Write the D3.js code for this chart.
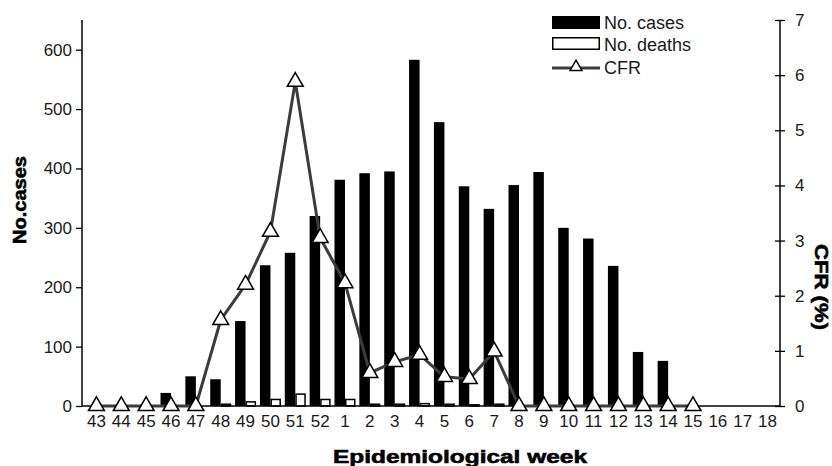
<!DOCTYPE html>
<html>
<head>
<meta charset="utf-8">
<script src="https://cdn.jsdelivr.net/npm/d3@7/dist/d3.min.js"></script>
<style>
  html, body { margin: 0; padding: 0; background: #fff; }
  svg { display: block; }
  .tick text { font-family: "Liberation Sans", Arial, sans-serif; fill: #1a1a1a; }
  .title { font-family: "Liberation Sans", Arial, sans-serif; font-weight: bold; font-size: 19px; fill: #000; stroke: #000; stroke-width: 0.6px; }
</style>
</head>
<body>
<svg id="chart" width="832" height="466"></svg>
<script>
// Epidemiological weeks (week 43 of one year through week 18 of the next)
const weeks = ["43","44","45","46","47","48","49","50","51","52",
               "1","2","3","4","5","6","7","8","9","10","11","12","13","14","15","16","17","18"];
// Weekly number of cases
const cases = [0, 0, 0, 22, 50, 45, 143, 237, 258, 320,
               381, 392, 395, 583, 478, 370, 332, 372, 394, 300, 282, 236, 91, 76, 0, 0, 0, 0];
// Weekly number of deaths
const deaths = [0, 0, 0, 0, 0, 3, 7, 11, 20, 11,
                11, 3, 3, 4, 3, 2, 3, 0, 0, 0, 0, 0, 0, 0, 0, 0, 0, 0];
// Case fatality rate (%), reported up to week 15
const cfr = [0, 0, 0, 0, 0, 1.56, 2.2, 3.16, 5.88, 3.05,
             2.23, 0.6, 0.8, 0.93, 0.53, 0.49, 0.99, 0, 0, 0, 0, 0, 0, 0, 0, null, null, null];
const casesTicks = [0, 100, 200, 300, 400, 500, 600];
const cfrTicks = [0, 1, 2, 3, 4, 5, 6, 7];

const svg = d3.select("#chart");
const plotLeft = 82, plotRight = 780, plotTop = 20, plotBottom = 406;

const x = d3.scaleBand().domain(weeks).range([84, 780]).padding(0);
const yL = d3.scaleLinear().domain([0, 650]).range([plotBottom, plotTop]);
const yR = d3.scaleLinear().domain([0, 7]).range([plotBottom, plotTop]);
const sub = d3.scaleBand().domain(["cases", "deaths"]).range([-10.5, 10.5]).padding(0);

const rows = weeks.map((w, i) => ({ w, cases: cases[i], deaths: deaths[i], cfr: cfr[i] }));
const cx = w => x(w) + x.bandwidth() / 2;

// Case bars
svg.append("g").selectAll("rect").data(rows).join("rect")
  .attr("x", d => cx(d.w) + sub("cases"))
  .attr("y", d => yL(d.cases))
  .attr("width", sub.bandwidth())
  .attr("height", d => plotBottom - yL(d.cases))
  .attr("fill", "#000");

// Death bars (outlined)
svg.append("g").selectAll("rect").data(rows.filter(d => d.deaths > 0)).join("rect")
  .attr("x", d => cx(d.w) + sub("deaths") + 0.75)
  .attr("y", d => yL(d.deaths))
  .attr("width", sub.bandwidth() - 1.5)
  .attr("height", d => plotBottom - yL(d.deaths))
  .attr("fill", "#fff")
  .attr("stroke", "#000")
  .attr("stroke-width", 1.5);

// Axes
const axL = svg.append("g").attr("transform", `translate(${plotLeft},0)`)
  .call(d3.axisLeft(yL).tickValues(casesTicks).tickSize(6).tickPadding(4));
axL.select(".domain").attr("d", `M0,${plotTop}V${plotBottom}`).attr("stroke", "#000").attr("stroke-width", 1.5);
axL.selectAll(".tick line").attr("stroke", "#000").attr("stroke-width", 1.3);
axL.selectAll(".tick text").attr("font-size", 17);

const axR = svg.append("g").attr("transform", `translate(${plotRight},0)`)
  .call(d3.axisRight(yR).tickValues(cfrTicks).tickFormat(d3.format("d")).tickSize(5).tickPadding(10));
axR.select(".domain").attr("d", `M0,${plotTop}V${plotBottom}`).attr("stroke", "#000").attr("stroke-width", 1.5);
axR.selectAll(".tick line").attr("x1", -5).attr("stroke", "#000").attr("stroke-width", 1.3);
axR.selectAll(".tick text").attr("font-size", 17);

const axB = svg.append("g").attr("transform", `translate(0,${plotBottom})`)
  .call(d3.axisBottom(x).tickSize(0).tickPadding(9));
axB.select(".domain").attr("d", `M${plotLeft},0H${plotRight}`).attr("stroke", "#000").attr("stroke-width", 1.5);
axB.selectAll(".tick text").attr("font-size", 17);

// CFR line with triangle markers
const cfrPts = rows.filter(d => d.cfr !== null);
svg.append("path").datum(cfrPts)
  .attr("fill", "none")
  .attr("stroke", "#3c3c3c")
  .attr("stroke-width", 3)
  .attr("stroke-linejoin", "round")
  .attr("d", d3.line().x(d => cx(d.w)).y(d => yR(d.cfr)));

const tri = d3.symbol().type(d3.symbolTriangle).size(110);
svg.append("g").selectAll("path").data(cfrPts).join("path")
  .attr("transform", d => `translate(${cx(d.w)},${yR(d.cfr)})`)
  .attr("d", tri)
  .attr("fill", "#fff")
  .attr("stroke", "#000")
  .attr("stroke-width", 1.5);

// Axis titles
svg.append("text").attr("class", "title")
  .attr("x", 460).attr("y", 463)
  .attr("text-anchor", "middle")
  .attr("textLength", 254).attr("lengthAdjust", "spacingAndGlyphs")
  .text("Epidemiological week");

svg.append("text").attr("class", "title")
  .attr("transform", "translate(26,200) rotate(-90)")
  .attr("text-anchor", "middle")
  .attr("textLength", 88).attr("lengthAdjust", "spacingAndGlyphs")
  .text("No.cases");

svg.append("text").attr("class", "title")
  .attr("transform", "translate(815,287) rotate(90)")
  .attr("text-anchor", "middle")
  .attr("textLength", 86).attr("lengthAdjust", "spacingAndGlyphs")
  .text("CFR (%)");

// Legend
const lg = svg.append("g").attr("font-family", "'Liberation Sans', Arial, sans-serif").attr("font-size", 18).attr("fill", "#1a1a1a");
lg.append("rect").attr("x", 552).attr("y", 16).attr("width", 48).attr("height", 13).attr("fill", "#000");
lg.append("text").attr("x", 604).attr("y", 29).text("No. cases");
lg.append("rect").attr("x", 552.75).attr("y", 37.75).attr("width", 46.5).attr("height", 11.5)
  .attr("fill", "#fff").attr("stroke", "#000").attr("stroke-width", 1.5);
lg.append("text").attr("x", 604).attr("y", 51).text("No. deaths");
lg.append("line").attr("x1", 552).attr("x2", 600).attr("y1", 68).attr("y2", 68)
  .attr("stroke", "#3c3c3c").attr("stroke-width", 3);
lg.append("path").attr("transform", "translate(576,67)")
  .attr("d", d3.symbol().type(d3.symbolTriangle).size(60))
  .attr("fill", "#fff").attr("stroke", "#000").attr("stroke-width", 1.5);
lg.append("text").attr("x", 604).attr("y", 74).text("CFR");
</script>
</body>
</html>
